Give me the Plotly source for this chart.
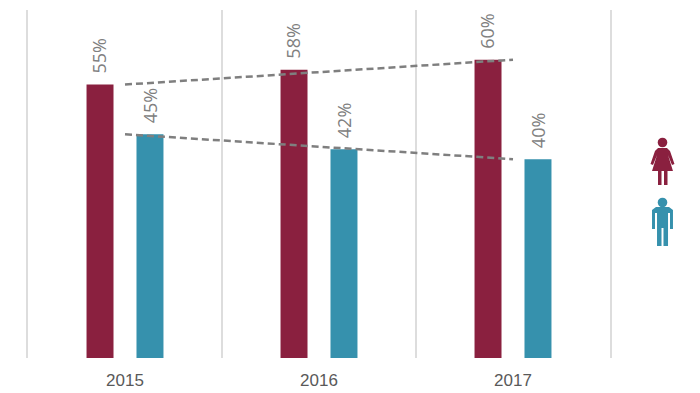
import plotly.graph_objects as go

years = ["2015", "2016", "2017"]
women = [55, 58, 60]
men = [45, 42, 40]
trend_years = ["2015", "2017"]
women_trend = [55, 60]
men_trend = [45, 40]

WOMAN = "#8a203f"
MAN = "#3691ad"
L, R, T, B = 28, 90, 10, 35
W, H = 700, 393
PW, PH = W - L - R, H - T - B

def px(x, y):
    return f"{(x - L) / PW:.4f},{(H - B - y) / PH:.4f}"

def path(points):
    return "M" + "L".join(px(x, y) for x, y in points) + "Z"

def head(cx, cy, r, color):
    return dict(type="circle", xref="paper", yref="paper",
                x0=(cx - r - L) / PW, x1=(cx + r - L) / PW,
                y0=(H - B - cy - r) / PH, y1=(H - B - cy + r) / PH,
                fillcolor=color, line_width=0, layer="above")

woman_pts = [(658, 148), (667, 148), (670, 151), (674.5, 164), (672, 165), (668, 155), (673, 171),
             (667.5, 171), (667.5, 185), (664, 185), (664, 171), (661.5, 171), (661.5, 185), (658, 185),
             (658, 171), (652, 171), (657, 155), (653, 165), (650.5, 164), (655, 151)]
man_pts = [(656, 207), (669, 207), (673, 210), (673, 229), (670, 229), (670, 213), (668, 213),
           (668, 246), (663.5, 246), (663.5, 228), (661.5, 228), (661.5, 246), (657, 246),
           (657, 213), (655, 213), (655, 229), (652, 229), (652, 210)]

label_font = dict(family="Open Sans, sans-serif", size=18, color="#808080")

def labels(values, shift):
    return [dict(x=i, y=v, text=f"{v}%", textangle=-90, showarrow=False, font=label_font,
                 yanchor="bottom", xanchor="center", xshift=shift, yshift=9)
            for i, v in enumerate(values)]

fig = go.Figure()
fig.add_bar(name="Women", x=years, y=women, marker=dict(color=WOMAN, line_width=0))
fig.add_bar(name="Men", x=years, y=men, marker=dict(color=MAN, line_width=0))
for series in (women_trend, men_trend):
    fig.add_scatter(x=trend_years, y=series, mode="lines", hoverinfo="skip",
                    line=dict(color="#7f7f7f", width=2.5, dash="7px,4px"))

fig.update_layout(
    width=W, height=H, autosize=False, showlegend=False,
    margin=dict(l=L, r=R, t=T, b=B, autoexpand=False),
    paper_bgcolor="white", plot_bgcolor="white",
    barmode="group", bargap=0.485, bargroupgap=0.46,
    annotations=labels(women, -25.5) + labels(men, 24.5),
    shapes=[
        dict(type="path", xref="paper", yref="paper", path=path(woman_pts),
             fillcolor=WOMAN, line_width=0, layer="above"),
        head(662.5, 142.5, 4.8, WOMAN),
        dict(type="path", xref="paper", yref="paper", path=path(man_pts),
             fillcolor=MAN, line_width=0, layer="above"),
        head(662.5, 202.5, 4.8, MAN),
    ],
)
fig.update_xaxes(type="category", categoryorder="array", categoryarray=years, range=[-0.5, 2.5],
                 tickson="boundaries", ticks="", showgrid=True, gridcolor="#dddddd", gridwidth=1.5,
                 showline=False, zeroline=False, ticklabelstandoff=10, tickangle=0, automargin=False,
                 tickfont=dict(family="Liberation Sans, Arial, sans-serif", size=17, color="#595959"))
fig.update_yaxes(range=[0, 70], showticklabels=False, showgrid=False, zeroline=False, ticks="",
                 showline=True, mirror=True, linecolor="#dddddd", linewidth=1.5, automargin=False)
fig.write_html("out.html", config=dict(displayModeBar=False),
               post_script="document.body.style.margin='0';")
